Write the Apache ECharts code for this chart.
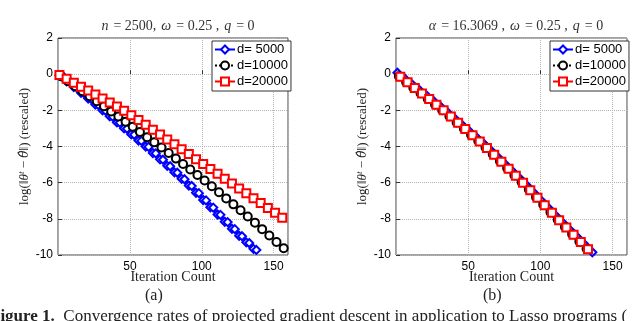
<!DOCTYPE html>
<html>
<head>
<meta charset="utf-8">
<script src="https://cdn.jsdelivr.net/npm/echarts@6/dist/echarts.min.js"></script>
<style>
  html, body { margin: 0; padding: 0; background: #fff; }
  #chart { width: 640px; height: 321px; }
</style>
</head>
<body>
<div id="chart"></div>
<script>
// panel (a): n = 2500
var itA5000 = [1, 6, 11, 16, 21, 26, 31, 36, 41, 46, 51, 56, 61, 66, 71, 76, 81, 86, 91, 96, 101, 106, 111, 116, 121, 126, 131, 136]
var valA5000 = [-0.06, -0.39, -0.71, -1.03, -1.35, -1.68, -2.00, -2.33, -2.67, -3.00, -3.33, -3.67, -4.00, -4.36, -4.71, -5.07, -5.43, -5.79, -6.16, -6.56, -6.96, -7.36, -7.76, -8.16, -8.55, -8.94, -9.30, -9.66]
var itA5000b = [3, 8, 13, 18, 23, 28, 33, 38, 43, 48, 53, 58, 63, 68, 73, 78, 83, 88, 93, 98, 103, 108, 113, 118, 123, 128, 133, 138]
var valA5000b = [-0.08, -0.41, -0.73, -1.05, -1.37, -1.70, -2.02, -2.35, -2.69, -3.02, -3.35, -3.69, -4.02, -4.38, -4.73, -5.09, -5.45, -5.81, -6.18, -6.58, -6.98, -7.38, -7.78, -8.18, -8.57, -8.96, -9.34, -9.72]
var itA10000 = [2, 7, 12, 17, 22, 27, 32, 37, 42, 47, 52, 57, 62, 67, 72, 77, 82, 87, 92, 97, 102, 107, 112, 117, 122, 127, 132, 137, 142, 147, 152, 157]
var valA10000 = [-0.11, -0.39, -0.67, -0.94, -1.22, -1.50, -1.78, -2.06, -2.34, -2.63, -2.91, -3.20, -3.49, -3.77, -4.06, -4.36, -4.67, -4.97, -5.27, -5.58, -5.88, -6.20, -6.53, -6.87, -7.20, -7.53, -7.87, -8.21, -8.57, -8.92, -9.28, -9.63]
var itA20000 = [1, 6, 11, 16, 21, 26, 31, 36, 41, 46, 51, 56, 61, 66, 71, 76, 81, 86, 91, 96, 101, 106, 111, 116, 121, 126, 131, 136, 141, 146, 151, 156]
var valA20000 = [-0.04, -0.26, -0.48, -0.70, -0.91, -1.13, -1.35, -1.57, -1.79, -2.02, -2.27, -2.53, -2.80, -3.07, -3.34, -3.61, -3.88, -4.15, -4.42, -4.70, -4.97, -5.24, -5.51, -5.78, -6.05, -6.32, -6.59, -6.86, -7.13, -7.40, -7.67, -7.94]

// panel (b): alpha = 16.3069
var itB5000 = [1, 6, 11, 16, 21, 26, 31, 36, 41, 46, 51, 56, 61, 66, 71, 76, 81, 86, 91, 96, 101, 106, 111, 116, 121, 126, 131, 136]
var valB5000 = [0.08, -0.24, -0.55, -0.86, -1.17, -1.48, -1.80, -2.13, -2.48, -2.82, -3.17, -3.51, -3.86, -4.24, -4.62, -5.01, -5.39, -5.78, -6.18, -6.60, -7.02, -7.43, -7.85, -8.25, -8.65, -9.05, -9.45, -9.85]
var itB10000 = [2, 7, 12, 17, 22, 27, 32, 37, 42, 47, 52, 57, 62, 67, 72, 77, 82, 87, 92, 97, 102, 107, 112, 117, 122, 127, 132]
var valB10000 = [-0.12, -0.44, -0.75, -1.06, -1.37, -1.68, -1.99, -2.33, -2.67, -3.01, -3.36, -3.70, -4.05, -4.43, -4.82, -5.20, -5.59, -5.97, -6.38, -6.80, -7.22, -7.63, -8.05, -8.45, -8.85, -9.25, -9.65]
var itB20000 = [3, 8, 13, 18, 23, 28, 33, 38, 43, 48, 53, 58, 63, 68, 73, 78, 83, 88, 93, 98, 103, 108, 113, 118, 123, 128, 133]
var valB20000 = [-0.14, -0.45, -0.76, -1.07, -1.38, -1.69, -2.00, -2.34, -2.69, -3.03, -3.38, -3.72, -4.08, -4.46, -4.85, -5.23, -5.62, -6.00, -6.42, -6.83, -7.25, -7.67, -8.08, -8.48, -8.88, -9.28, -9.68]

var legendNames = ['d= 5000', 'd=10000', 'd=20000']
var xTickLabels = [50, 100, 150]

var serif = '"Liberation Serif", "DejaVu Serif", serif'
var sans = '"Liberation Sans", Arial, sans-serif'

function pairs(xs, ys) {
  var out = []
  for (var i = 0; i < xs.length; i++) out.push([xs[i], ys[i]])
  return out
}

function line(name, xs, ys, color, symbol, dash, idx) {
  return {
    name: name,
    type: 'line',
    xAxisIndex: idx,
    yAxisIndex: idx,
    data: pairs(xs, ys),
    symbol: symbol,
    symbolSize: 8,
    showAllSymbol: true,
    animation: false,
    lineStyle: { color: color, width: 2, type: dash },
    itemStyle: { color: color, borderColor: color, borderWidth: 2.2 }
  }
}

function xAxis(idx) {
  return {
    type: 'value', gridIndex: idx, min: 0, max: 160, interval: 50,
    axisLine: { show: false },
    axisTick: { inside: true, length: 4, lineStyle: { color: '#333' } },
    axisLabel: {
      color: '#000', fontFamily: sans, fontSize: 12, margin: 6,
      formatter: function (v) { return xTickLabels.indexOf(v) >= 0 ? String(v) : '' }
    },
    splitLine: { show: true, lineStyle: { color: '#b5b5b5', type: 'dotted', width: 1 } },
    name: 'Iteration Count', nameLocation: 'middle', nameGap: 15, nameMoveOverlap: false,
    nameTextStyle: { fontFamily: serif, fontSize: 14, color: '#222' }
  }
}

var yRich = {
  a: { fontFamily: serif, fontSize: 13, color: '#222' },
  i: { fontFamily: serif, fontStyle: 'italic', fontSize: 13, color: '#222' },
  s: { fontFamily: serif, fontStyle: 'italic', fontSize: 9, color: '#222', verticalAlign: 'top', padding: [0, 0, 6, 0] },
  h: { fontFamily: '"DejaVu Serif", serif', fontStyle: 'italic', fontSize: 12, color: '#222' }
}

function yAxis(idx) {
  return {
    type: 'value', gridIndex: idx, min: -10, max: 2, interval: 2,
    axisLine: { show: false },
    axisTick: { inside: true, length: 4, lineStyle: { color: '#333' } },
    axisLabel: { color: '#000', fontFamily: sans, fontSize: 12, margin: 5 },
    splitLine: { show: true, lineStyle: { color: '#b5b5b5', type: 'dotted', width: 1 } },
    name: '{a|log(\u2016}{i|\u03b8}{s|t}{a| \u2212 }{h|\u03b8\u0302}{a|\u2016) (rescaled)}',
    nameLocation: 'middle', nameGap: 26, nameRotate: 90, nameMoveOverlap: false,
    nameTextStyle: { rich: yRich }
  }
}

function legend(left) {
  return {
    data: legendNames, orient: 'vertical', left: left, top: 41,
    backgroundColor: '#fff', borderColor: '#333', borderWidth: 1,
    padding: [2, 3, 3, 2], itemGap: 3, itemWidth: 20, itemHeight: 10,
    textStyle: { fontFamily: sans, fontSize: 13, color: '#000', padding: [0, 0, 0, -3] }
  }
}

var titleRich = {
  i: { fontFamily: serif, fontStyle: 'italic', fontWeight: 'normal', fontSize: 14, color: '#333' },
  r: { fontFamily: serif, fontWeight: 'normal', fontSize: 14, color: '#333' }
}

var chart = echarts.init(document.getElementById('chart'), null, { renderer: 'canvas' })
chart.setOption({
  backgroundColor: '#fff',
  title: [
    { text: '{i|n} {r|= 2500,} {i|\u03c9} {r|= 0.25 ,} {i|q} {r|= 0}', left: 173, top: 12, textAlign: 'center',
      textStyle: { fontWeight: 'normal', rich: titleRich } },
    { text: '{i|\u03b1} {r|= 16.3069 ,} {i|\u03c9} {r|= 0.25 ,} {i|q} {r|= 0}', left: 511, top: 12, textAlign: 'center',
      textStyle: { fontWeight: 'normal', rich: titleRich } }
  ],
  grid: [
    { left: 58, top: 38, width: 230, height: 217, show: true, borderColor: '#444', borderWidth: 1, backgroundColor: 'transparent' },
    { left: 396, top: 38, width: 231, height: 217, show: true, borderColor: '#444', borderWidth: 1, backgroundColor: 'transparent' }
  ],
  xAxis: [xAxis(0), xAxis(1)],
  yAxis: [yAxis(0), yAxis(1)],
  legend: [legend(212), legend(550)],
  series: [
    line('d= 5000', itA5000, valA5000, '#0000ff', 'emptyDiamond', 'solid', 0),
    line('d= 5000 run b', itA5000b, valA5000b, '#0000ff', 'emptyDiamond', 'solid', 0),
    line('d=10000', itA10000, valA10000, '#000000', 'emptyCircle', 'dotted', 0),
    line('d=20000', itA20000, valA20000, '#ff0000', 'emptyRect', 'dashed', 0),
    line('d= 5000', itB5000, valB5000, '#0000ff', 'emptyDiamond', 'solid', 1),
    line('d=10000', itB10000, valB10000, '#000000', 'emptyCircle', 'dotted', 1),
    line('d=20000', itB20000, valB20000, '#ff0000', 'emptyRect', 'dashed', 1)
  ],
  graphic: [
    { type: 'text', left: 145, top: 288, style: { text: '(a)', font: '16px ' + serif, fill: '#222' } },
    { type: 'text', left: 483, top: 288, style: { text: '(b)', font: '16px ' + serif, fill: '#222' } },
    { type: 'text', left: -10, top: 308, style: { text: '{b|Figure 1.}  Convergence rates of projected gradient descent in application to Lasso programs (',
      font: '17px ' + serif, fill: '#222', rich: { b: { fontWeight: 'bold', fontFamily: serif, fontSize: 17, fill: '#222' } } } }
  ]
})
</script>
</body>
</html>
